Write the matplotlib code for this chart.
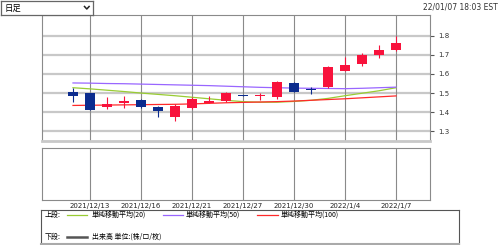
import matplotlib
matplotlib.use("Agg")
import matplotlib.pyplot as plt
from matplotlib.patches import Rectangle

plt.rcParams['font.family'] = ['DejaVu Sans', 'Noto Sans CJK JP']
JP = ['Noto Sans CJK JP', 'DejaVu Sans']

# --- data (trading days 2021/12/10 .. 2022/1/7) ---
days = ['12/10', '12/13', '12/14', '12/15', '12/16', '12/17', '12/20', '12/21',
        '12/22', '12/23', '12/27', '12/28', '12/29', '12/30', '12/31', '1/3',
        '1/4', '1/5', '1/6', '1/7']
opens = [1.508, 1.498, 1.425, 1.446, 1.465, 1.427, 1.375, 1.420, 1.450, 1.456,
         1.488, 1.482, 1.479, 1.552, 1.518, 1.531, 1.618, 1.654, 1.700, 1.724]
closes = [1.482, 1.413, 1.443, 1.460, 1.425, 1.408, 1.430, 1.470, 1.460, 1.500,
          1.484, 1.488, 1.560, 1.508, 1.516, 1.639, 1.647, 1.700, 1.726, 1.764]
highs = [1.526, 1.500, 1.477, 1.487, 1.470, 1.430, 1.440, 1.478, 1.486, 1.505,
         1.490, 1.500, 1.562, 1.556, 1.530, 1.640, 1.690, 1.708, 1.752, 1.800]
lows = [1.451, 1.410, 1.418, 1.422, 1.420, 1.373, 1.352, 1.415, 1.448, 1.452,
        1.482, 1.465, 1.470, 1.505, 1.495, 1.528, 1.615, 1.640, 1.682, 1.720]
ma20 = [1.528, 1.522, 1.515, 1.508, 1.500, 1.493, 1.486, 1.478, 1.470, 1.462,
        1.455, 1.452, 1.452, 1.456, 1.462, 1.472, 1.486, 1.499, 1.512, 1.528]
ma50 = [1.553, 1.552, 1.550, 1.549, 1.547, 1.545, 1.543, 1.541, 1.539, 1.536,
        1.533, 1.530, 1.528, 1.526, 1.525, 1.524, 1.523, 1.525, 1.528, 1.531]
ma100 = [1.435, 1.436, 1.437, 1.438, 1.439, 1.440, 1.441, 1.443, 1.446, 1.449,
         1.451, 1.453, 1.455, 1.458, 1.462, 1.466, 1.470, 1.475, 1.480, 1.485]
tick_idx = [1, 4, 7, 10, 13, 16, 19]
tick_labels = ['2021/12/13', '2021/12/16', '2021/12/21', '2021/12/27',
               '2021/12/30', '2022/1/4', '2022/1/7']
yticks = [1.3, 1.4, 1.5, 1.6, 1.7, 1.8]

UP = '#f8123c'
DOWN = '#0c2c8e'
W, H = 500, 245

fig = plt.figure(figsize=(5, 2.45), dpi=100)


def rect(x0, y0, x1, y1):
    # pixel box (top-left origin) -> figure fraction
    return [x0 / W, 1 - y1 / H, (x1 - x0) / W, (y1 - y0) / H]


xlim = (-1.84, 21.0)

# upper panel: candles + moving averages
ax = fig.add_axes(rect(41.7, 15.3, 430, 140.7))
ax.set_xlim(*xlim)
ax.set_ylim(1.25, 1.908)
for y in yticks:
    ax.axhline(y, color='#c8c8c8', lw=1.6, zorder=0)
for i in tick_idx:
    ax.axvline(i, color='#8a8a8a', lw=0.8, zorder=0)

x = list(range(len(days)))
ax.plot(x, ma20, color='#99cc33', lw=0.9, zorder=2)
ax.plot(x, ma50, color='#9966ff', lw=0.9, zorder=2)
ax.plot(x, ma100, color='#ff2a2a', lw=0.9, zorder=2)

for i in x:
    o, c = opens[i], closes[i]
    col = UP if c >= o else DOWN
    ax.vlines(i, lows[i], highs[i], color=col, lw=0.8, zorder=3)
    h = max(abs(c - o), 0.004)
    ax.bar(i, h, bottom=min(o, c), width=0.62, color=col, zorder=4)

ax.yaxis.tick_right()
ax.set_yticks(yticks)
ax.set_yticklabels([f'{v:.1f}' for v in yticks])
ax.tick_params(axis='y', length=3, width=0.8, color='#555555', labelsize=5,
               pad=3, labelcolor='#333333')
ax.set_xticks([])
for s in ax.spines.values():
    s.set_color('#8a8a8a')
    s.set_linewidth(0.8)
ax.spines['bottom'].set_color('#c8c8c8')
ax.spines['bottom'].set_linewidth(2)

# lower panel (volume, empty)
ax2 = fig.add_axes(rect(41.7, 148.3, 430, 200))
ax2.set_xlim(*xlim)
ax2.set_ylim(0, 1)
for i in tick_idx:
    ax2.axvline(i, color='#8a8a8a', lw=0.8, zorder=0)
ax2.set_yticks([])
ax2.set_xticks(tick_idx)
ax2.set_xticklabels(tick_labels)
ax2.tick_params(axis='x', length=0, labelsize=5, pad=2, labelcolor='#222222')
for s in ax2.spines.values():
    s.set_color('#8a8a8a')
    s.set_linewidth(0.8)

# legend box
lg = fig.add_axes(rect(41, 210, 459.3, 244))
lg.set_xlim(41, 459.3)
lg.set_ylim(244, 210)
lg.set_xticks([])
lg.set_yticks([])
for s in lg.spines.values():
    s.set_color('#555555')
    s.set_linewidth(0.8)
lg.spines['bottom'].set_color('#aaaaaa')
lg.spines['bottom'].set_linewidth(1.5)
ty = 215
lg.text(45, ty, '上段:', family=JP, fontsize=5, va='center')
lg.plot([66.7, 87.3], [ty, ty], color='#99cc33', lw=0.9)
lg.text(91.7, ty, '単純移動平均(20)', family=JP, fontsize=5, va='center')
lg.plot([163, 183], [ty, ty], color='#9966ff', lw=0.9)
lg.text(185.7, ty, '単純移動平均(50)', family=JP, fontsize=5, va='center')
lg.plot([257, 278], [ty, ty], color='#ff2a2a', lw=0.9)
lg.text(281, ty, '単純移動平均(100)', family=JP, fontsize=5, va='center')
ty2 = 236.7
lg.text(45, ty2, '下段:', family=JP, fontsize=5, va='center')
lg.plot([66.7, 87.3], [ty2, ty2], color='#555555', lw=1.8)
lg.text(91.7, ty2, '出来高 単位:(株/口/枚)', family=JP, fontsize=5, va='center')

# dropdown header + timestamp
hd = fig.add_axes(rect(1, 1, 93, 15))
hd.set_xlim(1, 93)
hd.set_ylim(15, 1)
hd.set_xticks([])
hd.set_yticks([])
for s in hd.spines.values():
    s.set_color('#666666')
    s.set_linewidth(0.9)
hd.text(4.5, 8, '日足', family=JP, fontsize=6, va='center')
hd.plot([84.5, 86.8, 89.1], [6.5, 9, 6.5], color='#222222', lw=1.1)

fig.text(498 / W, 1 - 7.5 / H, '22/01/07 18:03 EST', ha='right', va='center',
         fontsize=5.5, color='#333333')

fig.savefig('out.png', dpi=100)
